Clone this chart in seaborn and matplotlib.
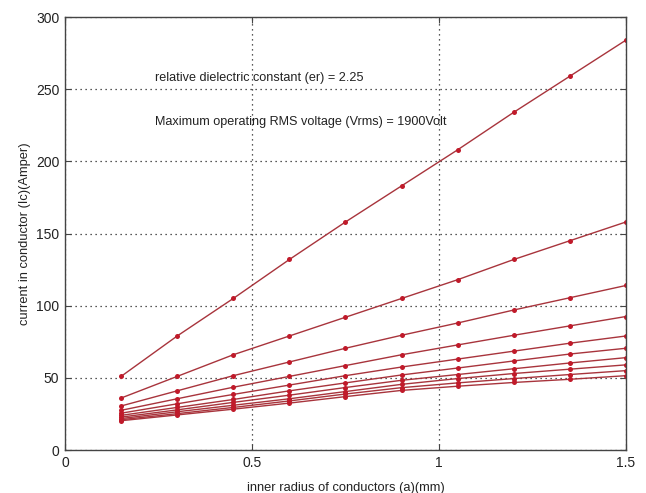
import matplotlib
matplotlib.use("Agg")
import matplotlib.pyplot as plt
import seaborn as sns
import pandas as pd

# inner radius of the conductor (mm)
radius = [0.15, 0.30, 0.45, 0.60, 0.75, 0.90, 1.05, 1.20, 1.35, 1.50]

# conductor current (A) for each curve, top to bottom
current_1 = [51, 79, 105, 132, 158, 183, 208, 234, 259, 284]
current_2 = [36, 51, 66, 79, 92, 105, 118, 132, 145, 158]
current_3 = [30.5, 41, 51.5, 61, 70.5, 79.5, 88, 97, 105.5, 114]
current_4 = [27.5, 35.5, 43.5, 51, 58.5, 66, 72.8, 79.5, 86, 92.5]
current_5 = [25.5, 32, 38.5, 45, 51.5, 57.5, 63, 68.5, 74, 79]
current_6 = [24, 29.5, 35, 41, 46.5, 52, 56.8, 61.7, 66.5, 70.5]
current_7 = [22.8, 27.8, 33, 38, 43.3, 48.3, 52.3, 56.3, 60.3, 64]
current_8 = [21.8, 26.5, 31, 35.5, 40.5, 45.5, 49.5, 53, 56, 59]
current_9 = [21, 25.2, 29.5, 34, 38.8, 43.2, 46.5, 49.5, 52.3, 55]
current_10 = [20.3, 24.3, 28.3, 32.5, 37, 41.3, 44.2, 46.8, 49, 51.5]

curves = [current_1, current_2, current_3, current_4, current_5,
          current_6, current_7, current_8, current_9, current_10]

x_ticks = [0, 0.5, 1, 1.5]
x_tick_labels = ["0", "0.5", "1", "1.5"]
y_ticks = [0, 50, 100, 150, 200, 250, 300]

note_1 = "relative dielectric constant (er) = 2.25"
note_2 = "Maximum operating RMS voltage (Vrms) = 1900Volt"

rows = []
for k, vals in enumerate(curves):
    for a, ic in zip(radius, vals):
        rows.append({"curve": k, "a": a, "Ic": ic})
df = pd.DataFrame(rows)

sns.set_style("white")
plt.rcParams["font.family"] = ["Liberation Sans", "DejaVu Sans"]

fig = plt.figure(figsize=(6.46, 4.93), dpi=100)
ax = fig.add_axes([0.1006, 0.0872, 0.8684, 0.8783])

line_color = "#a8343c"
sns.lineplot(data=df, x="a", y="Ic", hue="curve",
             palette=[line_color] * len(curves), legend=False,
             marker="o", markersize=3.6, markeredgewidth=0,
             linewidth=1.0, ax=ax, sort=False, estimator=None)
for ln in ax.lines:
    ln.set_markerfacecolor("#c01a2a")

ax.set_xlim(0, 1.5)
ax.set_ylim(0, 300)
ax.set_xticks(x_ticks)
ax.set_xticklabels(x_tick_labels)
ax.set_yticks(y_ticks)

ax.grid(True, linestyle=(0, (1, 3)), color="#222222", linewidth=0.9)
ax.set_axisbelow(True)
for s in ax.spines.values():
    s.set_color("#444444")
    s.set_linewidth(1.0)

ax.tick_params(direction="in", length=4, width=0.8, color="#444444",
               top=True, right=True, bottom=True, left=True,
               labelsize=10, labelcolor="#222222", pad=4)

ax.set_xlabel("inner radius of conductors (a)(mm)", fontsize=9.3, color="#222222", labelpad=9)
ax.set_ylabel("current in conductor (Ic)(Amper)", fontsize=9.3, color="#222222", labelpad=4)

ax.text(0.24, 258, note_1, fontsize=9.1, color="#222222", va="center", ha="left")
ax.text(0.24, 227, note_2, fontsize=9.1, color="#222222", va="center", ha="left")

fig.savefig("out.png", dpi=100, facecolor="white")
